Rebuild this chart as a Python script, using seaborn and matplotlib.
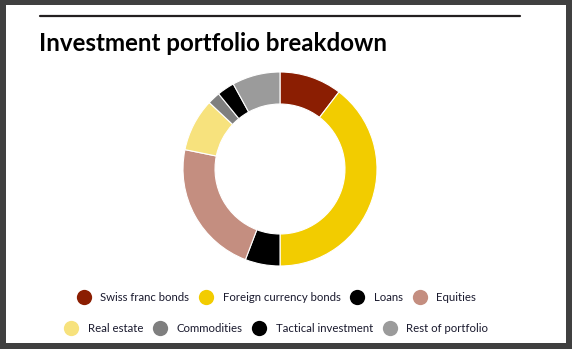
import matplotlib.pyplot as plt
import seaborn as sns
from matplotlib.lines import Line2D
from matplotlib.patches import Rectangle

# portfolio shares (%)
categories = ["Swiss franc bonds", "Foreign currency bonds", "Loans", "Equities",
              "Real estate", "Commodities", "Tactical investment", "Rest of portfolio"]
shares = [10.4, 39.6, 5.8, 22.4, 8.8, 2.1, 2.9, 8.0]
colors = ["#8b1e02", "#f2cc00", "#000000", "#c48e80",
          "#f7e27d", "#7f7f7f", "#000000", "#9b9b9b"]

sns.set_theme(style="white")
plt.rcParams['font.family'] = ['Lato', 'DejaVu Sans']

W, H = 572, 349
fig = plt.figure(figsize=(W / 100, H / 100), dpi=100, facecolor="#404040")
# white card inside the dark frame
fig.add_artist(Rectangle((6 / W, 6 / H), (W - 12) / W, (H - 11) / H, zorder=-5,
                         transform=fig.transFigure, facecolor="white", edgecolor="none"))
fig.add_artist(Line2D([40 / W, 520 / W], [1 - 15.5 / H, 1 - 15.5 / H],
                      transform=fig.transFigure, color="#231f20", linewidth=1.6))
fig.text(39 / W, 1 - 51 / H, "Investment portfolio breakdown", fontsize=17.4,
         fontweight="bold", color="black", va="baseline", ha="left")

# donut
cx, cy, r = 280, 169, 97
ax = fig.add_axes([(cx - r) / W, 1 - (cy + r) / H, 2 * r / W, 2 * r / H])
ax.pie(shares, colors=colors, startangle=90, counterclock=False, radius=1,
       wedgeprops=dict(width=0.33, edgecolor="white", linewidth=0.8))
ax.set_xlim(-1, 1)
ax.set_ylim(-1, 1)
ax.axis("off")

# legend in two centred rows
def make_handles(idx):
    return [Line2D([], [], linestyle="none", marker="o", markersize=11,
                   markerfacecolor=colors[i], markeredgecolor="none") for i in idx]

rows = [(range(0, 4), 297.5), (range(4, 8), 328)]
for idx, y in rows:
    leg = fig.legend(make_handles(idx), [categories[i] for i in idx],
                     loc="center", bbox_to_anchor=(277 / W, 1 - y / H), ncol=4,
                     frameon=False, prop=dict(size=8.2),
                     handletextpad=0.94, columnspacing=0.98,
                     handlelength=1.0, borderaxespad=0, borderpad=0)
    for t in leg.get_texts():
        t.set_color("#1a1a2e")

fig.savefig("out.png", dpi=100, facecolor=fig.get_facecolor())
